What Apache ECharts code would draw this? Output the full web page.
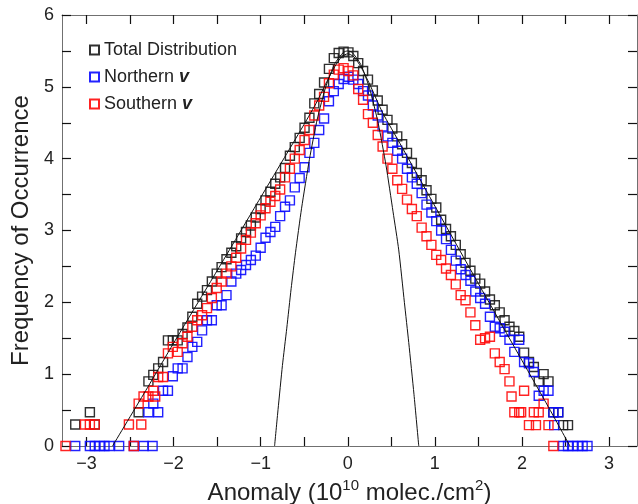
<!DOCTYPE html>
<html>
<head>
<meta charset="utf-8">
<script src="https://cdn.jsdelivr.net/npm/echarts@6/dist/echarts.min.js"></script>
<style>
  html, body { margin: 0; padding: 0; background: #fff; }
  #chart { width: 638px; height: 504px; }
</style>
</head>
<body>
<div id="chart"></div>
<script>
// Anomaly bin centres (10^10 molec./cm^2)
const anomaly = [
  -3.240, -3.184, -3.128, -3.072, -3.016, -2.960, -2.904, -2.848, -2.792, -2.736,
  -2.680, -2.624, -2.568, -2.512, -2.456, -2.400, -2.344, -2.288, -2.232, -2.176,
  -2.120, -2.064, -2.008, -1.952, -1.896, -1.840, -1.784, -1.728, -1.672, -1.616,
  -1.560, -1.504, -1.448, -1.392, -1.336, -1.280, -1.224, -1.168, -1.112, -1.056,
  -1.000, -0.944, -0.888, -0.832, -0.776, -0.720, -0.664, -0.608, -0.552, -0.496,
  -0.440, -0.384, -0.328, -0.272, -0.216, -0.160, -0.104, -0.048, 0.008, 0.064,
  0.120, 0.176, 0.232, 0.288, 0.344, 0.400, 0.456, 0.512, 0.568, 0.624,
  0.680, 0.736, 0.792, 0.848, 0.904, 0.960, 1.016, 1.072, 1.128, 1.184,
  1.240, 1.296, 1.352, 1.408, 1.464, 1.520, 1.576, 1.632, 1.688, 1.744,
  1.800, 1.856, 1.912, 1.968, 2.024, 2.080, 2.136, 2.192, 2.248, 2.304,
  2.360, 2.416, 2.472, 2.528, 2.584, 2.640, 2.696, 2.752, 2.808
];

// Frequency of occurrence, total distribution
const total = [
  null, null, 0.30, null, null, 0.47, 0.30, null, null, null,
  null, null, null, null, null, 0.47, null, 0.90, 0.99, 1.08,
  1.17, 1.47, 1.47, 1.47, 1.56, 1.65, 1.80, 1.98, 2.08, 2.17,
  2.29, 2.40, 2.49, 2.60, 2.69, 2.78, 2.89, 2.98, 3.07, 3.18,
  3.30, 3.42, 3.54, 3.65, 3.74, 3.87, 4.04, 4.16, 4.29, 4.43,
  4.57, 4.77, 4.90, 5.06, 5.25, 5.40, 5.47, 5.49, 5.48, 5.43,
  5.33, 5.22, 5.10, 4.95, 4.81, 4.68, 4.54, 4.42, 4.31, 4.20,
  4.08, 3.94, 3.80, 3.70, 3.56, 3.44, 3.32, 3.15, 3.02, 2.92,
  2.80, 2.67, 2.55, 2.44, 2.33, 2.26, 2.15, 2.04, 1.96, 1.86,
  1.75, 1.66, 1.60, 1.52, 1.30, 1.17, 1.10, 0.90, 1.00, 0.90,
  0.47, 0.47, 0.29, 0.29, null, null, null, null, null
];

// Northern
const northern = [
  null, null, 0, null, null, 0, 0, 0, 0, 0,
  null, 0, null, null, 0, null, 0, 0.47, 0.59, 0.47,
  0.77, 0.77, 0.97, 1.08, 1.08, 1.24, 1.38, 1.45, 1.61, 1.75,
  1.75, 1.96, 1.96, 2.10, 2.29, 2.40, 2.45, 2.52, 2.59, 2.65,
  2.76, 2.90, 2.98, 3.05, 3.20, 3.33, 3.42, 3.60, 3.73, 3.88,
  4.08, 4.22, 4.40, 4.56, 4.80, 4.94, 5.04, 5.11, 5.14, 5.10,
  5.04, 4.94, 4.88, 4.74, 4.60, 4.45, 4.31, 4.22, 4.11, 4.00,
  3.86, 3.74, 3.65, 3.52, 3.36, 3.25, 3.13, 3.00, 2.88, 2.73,
  2.58, 2.46, 2.38, 2.30, 2.15, 2.06, 1.98, 1.80, 1.66, 1.64,
  1.59, 1.48, 1.31, 1.48, 1.17, 1.15, 1.03, 0.70, 0.77, 0.77,
  0.47, 0.47, 0, 0, 0, 0, 0, 0, null
];
const northernExtra = [[-2.24, 0], [2.37, 0.29]];

// Southern
const southern = [
  0, null, null, null, 0.30, 0.30, 0.30, null, null, null,
  null, null, null, 0.30, 0, 0.59, 0.69, 0.69, 0.77, 0.96,
  0.96, 1.29, 1.38, 1.31, 1.43, 1.52, 1.66, 1.75, 1.82, 1.92,
  2.06, 2.20, 2.29, 2.40, 2.50, 2.62, 2.75, 2.87, 2.97, 3.10,
  3.21, 3.31, 3.40, 3.48, 3.57, 3.74, 3.86, 4.00, 4.12, 4.26,
  4.40, 4.60, 4.74, 4.86, 5.05, 5.17, 5.24, 5.26, 5.22, 5.16,
  4.97, 4.82, 4.62, 4.50, 4.33, 4.17, 4.00, 3.86, 3.70, 3.58,
  3.43, 3.30, 3.20, 3.04, 2.92, 2.80, 2.66, 2.59, 2.47, 2.38,
  2.25, 2.10, 2.03, 1.86, 1.68, 1.48, 1.50, 1.52, 1.29, 1.17,
  1.07, 0.90, 0.47, 0.47, 0.77, 0.29, 0.47, 0.47, 0.59, 0.29,
  0, null, null, null, null, null, null, null, null
];
const southernExtra = [[-2.37, 0.30], [-2.21, 0.69], [1.88, 0.69], [1.99, 0.47], [2.16, 0.29]];

// Fitted curve through the total distribution
const fitX = [-2.70, -2.30, -2.00, -1.50, -1.00, -0.70, -0.50, -0.35, -0.25, -0.15, -0.07, 0, 0.07, 0.15, 0.25, 0.40, 0.60, 1.00, 1.50, 2.00, 2.30, 2.55];
const fitY = [0, 0.81, 1.43, 2.44, 3.46, 4.07, 4.48, 4.80, 5.05, 5.28, 5.42, 5.46, 5.42, 5.28, 5.04, 4.64, 4.21, 3.34, 2.26, 1.19, 0.55, 0];

// Narrow reference curve
const narrowX = [-0.84, -0.80, -0.75, -0.70, -0.65, -0.60, -0.53, -0.44, -0.35, -0.25, -0.15, -0.05, 0, 0.05, 0.15, 0.25, 0.35, 0.44, 0.52, 0.585, 0.65, 0.70, 0.76, 0.815];
const narrowY = [0, 0.51, 1.12, 1.64, 2.19, 2.69, 3.31, 3.99, 4.55, 5.01, 5.32, 5.48, 5.50, 5.48, 5.31, 4.98, 4.49, 3.90, 3.26, 2.73, 2.00, 1.44, 0.72, 0];

const xMajorTicks = [-3, -2, -1, 0, 1, 2, 3];
const xMinorTicks = [-3, -2.5, -2, -1.5, -1, -0.5, 0, 0.5, 1, 1.5, 2, 2.5, 3];
const yMajorTicks = [0, 1, 2, 3, 4, 5, 6];
const yMinorTicks = [0, 0.5, 1, 1.5, 2, 2.5, 3, 3.5, 4, 4.5, 5, 5.5, 6];

const FONT = '"Liberation Sans", Arial, Helvetica, sans-serif';

function gridPairs(ys, extra) {
  const out = [];
  ys.forEach((y, i) => { if (y !== null) out.push([anomaly[i], y]); });
  return out.concat(extra || []);
}
function zipPairs(xs, ys) { return xs.map((x, i) => [x, ys[i]]); }

const axisLineStyle = { color: '#707070', width: 1 };
const tickStyle = { color: '#111', width: 1.2 };

function xAx(pos, showLabels) {
  return {
    type: 'value', position: pos, min: -3.28, max: 3.32,
    axisLine: { show: true, onZero: false, lineStyle: axisLineStyle },
    axisTick: { show: true, inside: true, length: 9, lineStyle: tickStyle, customValues: xMinorTicks },
    axisLabel: showLabels ? {
      show: true, customValues: xMajorTicks, margin: 9, fontSize: 18, fontFamily: FONT, color: '#222',
      formatter: v => (v < 0 ? '\u2212' : '') + Math.abs(v)
    } : { show: false },
    splitLine: { show: false },
    name: showLabels ? '{n|Anomaly (10}{s|10}{n| molec./cm}{s|2}{n|)}' : '',
    nameLocation: 'middle', nameGap: 32,
    nameTextStyle: {
      rich: {
        n: { fontSize: 24, fontFamily: FONT, color: '#222' },
        s: { fontSize: 15, fontFamily: FONT, color: '#222', padding: [0, 0, 15, 0] }
      }
    }
  };
}
function yAx(pos, showLabels) {
  return {
    type: 'value', position: pos, min: 0, max: 6,
    axisLine: { show: true, onZero: false, lineStyle: axisLineStyle },
    axisTick: { show: true, inside: true, length: 9, lineStyle: tickStyle, customValues: yMinorTicks },
    axisLabel: showLabels ? {
      show: true, customValues: yMajorTicks, margin: 8, fontSize: 18, fontFamily: FONT, color: '#222'
    } : { show: false },
    splitLine: { show: false },
    name: showLabels ? 'Frequency of Occurrence' : '',
    nameLocation: 'middle', nameGap: 28, nameRotate: 90,
    nameTextStyle: { fontSize: 24, fontFamily: FONT, color: '#222' }
  };
}

function scatter(name, data, color, z) {
  return {
    type: 'scatter', name: name, data: data, symbol: 'rect', symbolSize: 9, z: z,
    xAxisIndex: 0, yAxisIndex: 0,
    itemStyle: { color: 'rgba(0,0,0,0)', borderColor: color, borderWidth: 1.4, opacity: 0.9 },
    emphasis: { disabled: true }
  };
}
function line(data) {
  return {
    type: 'line', data: data, showSymbol: false, symbol: 'none', silent: true, z: 10,
    xAxisIndex: 0, yAxisIndex: 0, smooth: 0.2,
    lineStyle: { color: '#111', width: 1 }
  };
}

const chart = echarts.init(document.getElementById('chart'), null, { renderer: 'canvas' });
chart.setOption({
  animation: false,
  backgroundColor: '#fff',
  grid: { left: 62, right: 1, top: 15, bottom: 58, containLabel: false, outerBoundsMode: 'none' },
  xAxis: [xAx('bottom', true), xAx('top', false)],
  yAxis: [yAx('left', true), yAx('right', false)],
  legend: {
    orient: 'vertical', left: 84, top: 36, padding: 5, itemWidth: 9, itemHeight: 9, itemGap: 9,
    data: ['Total Distribution', 'Northern', 'Southern'],
    textStyle: {
      fontSize: 18, fontFamily: FONT, color: '#222', lineHeight: 18,
      rich: {
        t: { fontSize: 18, fontFamily: FONT, color: '#222' },
        v: { fontSize: 18, fontFamily: FONT, color: '#222', fontWeight: 'bold', fontStyle: 'italic' }
      }
    },
    formatter: n => n === 'Total Distribution' ? '{t|Total Distribution}' : '{t|' + n + ' }{v|v}'
  },
  series: [
    scatter('Total Distribution', gridPairs(total), '#1a1a1a', 3),
    scatter('Northern', gridPairs(northern, northernExtra), '#0a0aff', 4),
    scatter('Southern', gridPairs(southern, southernExtra), '#ff0a0a', 5),
    line(zipPairs(fitX, fitY)),
    line(zipPairs(narrowX, narrowY))
  ]
});
</script>
</body>
</html>
